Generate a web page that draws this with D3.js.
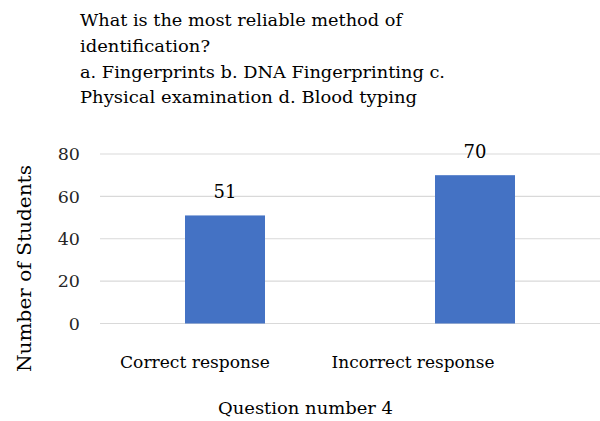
<!DOCTYPE html>
<html>
<head>
<meta charset="utf-8">
<script src="https://cdn.jsdelivr.net/npm/d3@7"></script>
<style>
  body { margin: 0; background: #fff; }
  text { font-family: "DejaVu Serif", serif; }
</style>
</head>
<body>
<div id="chart"></div>
<script>
const titleLines = [
  "What is the most reliable method of",
  "identification?",
  "a. Fingerprints  b. DNA Fingerprinting  c.",
  "Physical examination d. Blood typing"
];
const categories = ["Correct response", "Incorrect response"];
const counts = [51, 70];
const yTicks = [0, 20, 40, 60, 80];

const width = 600, height = 421;
const margin = { top: 154, right: 0, bottom: 97.5, left: 100 };

// widths the reference text takes up
const titleWidths = [322, 130, 365, 337];
const catWidths = [150, 163];
const catShift = [-30, -62];

const svg = d3.select("#chart").append("svg")
  .attr("width", width)
  .attr("height", height);

const x = d3.scaleBand()
  .domain(categories)
  .range([margin.left, width - margin.right])
  .paddingInner(0.68)
  .paddingOuter(0.34);

const y = d3.scaleLinear()
  .domain([0, 80])
  .range([height - margin.bottom, margin.top]);

// title
svg.append("g")
  .selectAll("text")
  .data(titleLines)
  .enter()
  .append("text")
  .attr("x", 80)
  .attr("y", (d, i) => 26 + i * 25.8)
  .attr("font-size", 17.5)
  .attr("textLength", (d, i) => titleWidths[i])
  .attr("lengthAdjust", "spacingAndGlyphs")
  .attr("fill", "#000")
  .text(d => d);

// gridlines
svg.append("g")
  .selectAll("line")
  .data(yTicks)
  .enter()
  .append("line")
  .attr("x1", margin.left)
  .attr("x2", width)
  .attr("y1", d => y(d))
  .attr("y2", d => y(d))
  .attr("stroke", "#d9d9d9")
  .attr("stroke-width", 1.2);

// y tick labels
svg.append("g")
  .selectAll("text")
  .data(yTicks)
  .enter()
  .append("text")
  .attr("x", 80)
  .attr("y", d => y(d))
  .attr("dy", "0.36em")
  .attr("text-anchor", "end")
  .attr("font-size", 17.5)
  .attr("fill", "#262626")
  .text(d => d);

// bars
svg.append("g")
  .selectAll("rect")
  .data(counts)
  .enter()
  .append("rect")
  .attr("x", (d, i) => x(categories[i]))
  .attr("width", x.bandwidth())
  .attr("y", d => y(d))
  .attr("height", d => y(0) - y(d))
  .attr("fill", "#4472c4");

// value labels
svg.append("g")
  .selectAll("text")
  .data(counts)
  .enter()
  .append("text")
  .attr("x", (d, i) => x(categories[i]) + x.bandwidth() / 2)
  .attr("y", d => y(d) - 17)
  .attr("text-anchor", "middle")
  .attr("font-size", 18)
  .attr("fill", "#000")
  .text(d => d);

// category labels
svg.append("g")
  .selectAll("text")
  .data(categories)
  .enter()
  .append("text")
  .attr("x", (d, i) => x(d) + x.bandwidth() / 2 + catShift[i] - catWidths[i] / 2)
  .attr("y", 368)
  .attr("font-size", 17.5)
  .attr("textLength", (d, i) => catWidths[i])
  .attr("lengthAdjust", "spacingAndGlyphs")
  .attr("fill", "#000")
  .text(d => d);

// axis titles
svg.append("text")
  .attr("x", 218)
  .attr("y", 414)
  .attr("font-size", 17.5)
  .attr("textLength", 175)
  .attr("lengthAdjust", "spacingAndGlyphs")
  .attr("fill", "#000")
  .text("Question number 4");

svg.append("text")
  .attr("transform", "translate(31,372) rotate(-90)")
  .attr("font-size", 18)
  .attr("textLength", 207)
  .attr("lengthAdjust", "spacingAndGlyphs")
  .attr("fill", "#000")
  .text("Number of Students");
</script>
</body>
</html>
